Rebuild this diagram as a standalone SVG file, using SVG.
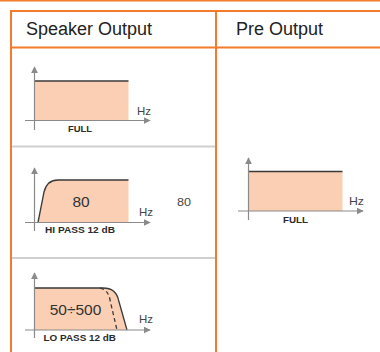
<svg xmlns="http://www.w3.org/2000/svg" width="380" height="352" viewBox="0 0 380 352">
<defs>
<style>
.frame{stroke:#f47a2c;stroke-width:2;fill:none}
.sep{stroke:#cfcfcf;stroke-width:2;fill:none}
.axis{stroke:#8a8a8a;stroke-width:1.2;fill:none}
.area{fill:#fbcfb3;stroke:none}
.curve{stroke:#3a3a3a;stroke-width:1.3;fill:none}
.hdr{font-family:"Liberation Sans",Arial,sans-serif;font-size:18px;fill:#222}
.lbl{font-family:"Liberation Sans",Arial,sans-serif;font-size:9px;font-weight:bold;fill:#2a2a2a}
.hz{font-family:"Liberation Sans",Arial,sans-serif;font-size:11px;fill:#444}
.val{font-family:"Liberation Sans",Arial,sans-serif;font-size:15.5px;fill:#333}
.small{font-family:"Liberation Sans",Arial,sans-serif;font-size:11px;fill:#444}
</style>
<marker id="arr" viewBox="0 0 10 10" refX="9" refY="5" markerWidth="7" markerHeight="7" markerUnits="userSpaceOnUse" orient="auto">
<path d="M0,0 L10,5 L0,10 Z" fill="#8a8a8a"/>
</marker>
</defs>
<g id="table">
<line class="frame" x1="0" y1="0.5" x2="380" y2="0.5" stroke-width="1.5"/>
<line class="frame" x1="10" y1="11" x2="380" y2="11"/>
<line class="frame" x1="10" y1="47.5" x2="380" y2="47.5"/>
<line class="frame" x1="11" y1="10" x2="11" y2="352"/>
<line class="frame" x1="216" y1="10" x2="216" y2="352"/>
<line class="sep" x1="12" y1="146.5" x2="215" y2="146.5"/>
<line class="sep" x1="12" y1="258" x2="215" y2="258"/>
<text class="hdr" x="26" y="35">Speaker Output</text>
<text class="hdr" x="236" y="35">Pre Output</text>
</g>
<g id="speaker-full">
<rect class="area" x="34.5" y="81" width="94" height="39.5"/>
<line class="curve" x1="34.5" y1="81" x2="128.5" y2="81"/>
<line class="axis" x1="34.5" y1="130" x2="34.5" y2="67" marker-end="url(#arr)"/>
<line class="axis" x1="25" y1="120.5" x2="150" y2="120.5" marker-end="url(#arr)"/>
<text class="hz" x="137" y="115" textLength="14" lengthAdjust="spacingAndGlyphs">Hz</text>
<text class="lbl" x="68" y="131.5" textLength="24" lengthAdjust="spacingAndGlyphs">FULL</text>
</g>
<g id="speaker-hipass">
<path class="area" d="M38,222.5 L44,192 Q47,180 58,180 L128.5,180 L128.5,222.5 Z"/>
<path class="curve" d="M38,222.5 L44,192 Q47,180 58,180 L128.5,180"/>
<line class="axis" x1="34.5" y1="231" x2="34.5" y2="168" marker-end="url(#arr)"/>
<line class="axis" x1="25" y1="222.5" x2="150" y2="222.5" marker-end="url(#arr)"/>
<text class="val" x="81" y="207" text-anchor="middle">80</text>
<text class="hz" x="139" y="216" textLength="14" lengthAdjust="spacingAndGlyphs">Hz</text>
<text class="lbl" x="45" y="232.5" textLength="70" lengthAdjust="spacingAndGlyphs">HI PASS 12 dB</text>
<text class="small" x="177" y="206" textLength="14" lengthAdjust="spacingAndGlyphs">80</text>
</g>
<g id="speaker-lopass">
<path class="area" d="M34.5,288 L103,288 Q116,288 118.5,300 L127,330 L34.5,330 Z"/>
<path class="curve" d="M34.5,288 L103,288 Q116,288 118.5,300 L127,330"/>
<path class="curve" stroke-dasharray="4,3" d="M100,288 Q108.5,290 110,300 L117,330"/>
<line class="axis" x1="34.5" y1="338" x2="34.5" y2="273" marker-end="url(#arr)"/>
<line class="axis" x1="25" y1="330" x2="150" y2="330" marker-end="url(#arr)"/>
<text class="val" x="75.5" y="315" text-anchor="middle">50÷500</text>
<text class="hz" x="139" y="323" textLength="14" lengthAdjust="spacingAndGlyphs">Hz</text>
<text class="lbl" x="43.5" y="341" textLength="72.5" lengthAdjust="spacingAndGlyphs">LO PASS 12 dB</text>
</g>
<g id="pre-full">
<rect class="area" x="248.5" y="171.5" width="94" height="39.5"/>
<line class="curve" x1="248.5" y1="171.5" x2="342.5" y2="171.5"/>
<line class="axis" x1="248.5" y1="220" x2="248.5" y2="158" marker-end="url(#arr)"/>
<line class="axis" x1="238" y1="211" x2="363" y2="211" marker-end="url(#arr)"/>
<text class="hz" x="349" y="205" textLength="15" lengthAdjust="spacingAndGlyphs">Hz</text>
<text class="lbl" x="283" y="222.5" textLength="25" lengthAdjust="spacingAndGlyphs">FULL</text>
</g>
</svg>
